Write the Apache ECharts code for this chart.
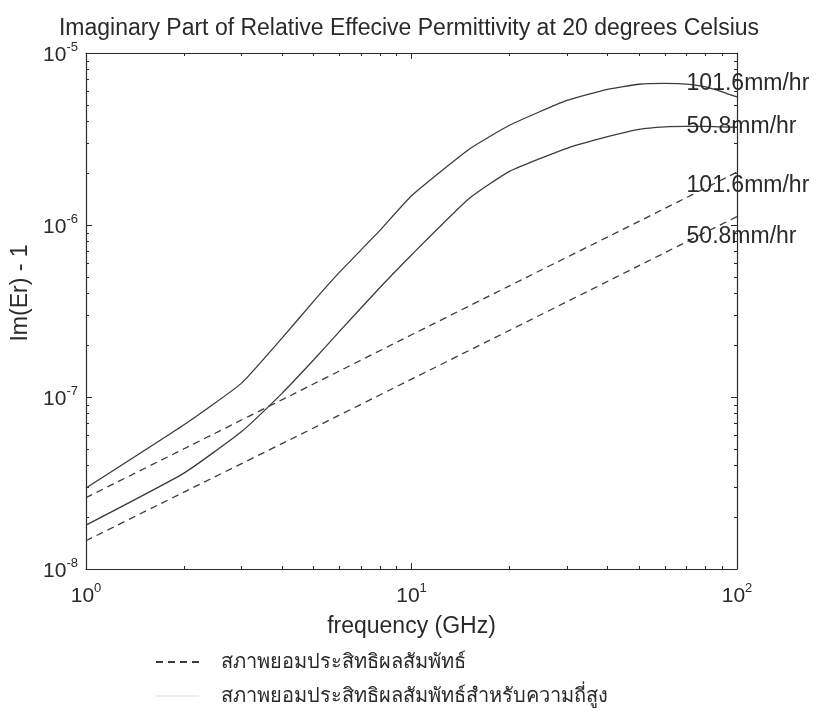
<!DOCTYPE html>
<html>
<head>
<meta charset="utf-8">
<script src="https://cdn.jsdelivr.net/npm/echarts@6/dist/echarts.min.js"></script>
<style>
  html, body { margin: 0; padding: 0; background: #fff; }
  #chart { width: 818px; height: 719px; }
</style>
</head>
<body>
<div id="chart"></div>
<script>
// frequency (GHz) sample points
const freq = [1, 2, 3, 4, 5, 6, 8, 10, 15, 20, 30, 40, 50, 60, 70, 80, 90, 100];

// high-frequency model (solid)
const solid1016 = [2.96e-8, 6.9e-8, 1.2e-7, 2.2e-7, 3.6e-7, 5.3e-7, 9.3e-7, 1.48e-6, 2.75e-6, 3.8e-6, 5.3e-6, 6.15e-6, 6.58e-6, 6.65e-6, 6.6e-6, 6.35e-6, 5.95e-6, 5.55e-6];
const solid508 = [1.8e-8, 3.61e-8, 6.28e-8, 1.05e-7, 1.64e-7, 2.4e-7, 4.33e-7, 6.7e-7, 1.42e-6, 2.05e-6, 2.79e-6, 3.26e-6, 3.6e-6, 3.72e-6, 3.74e-6, 3.74e-6, 3.72e-6, 3.7e-6];

// effective permittivity (dashed)
const dashFreq = [1, 2, 5, 10, 20, 50, 100];
const dashed1016 = [2.6e-8, 5.0e-8, 1.19e-7, 2.3e-7, 4.43e-7, 1.05e-6, 2.03e-6];
const dashed508 = [1.46e-8, 2.8e-8, 6.6e-8, 1.27e-7, 2.44e-7, 5.8e-7, 1.12e-6];

// curve labels
const curveLabels = ['101.6mm/hr', '50.8mm/hr', '101.6mm/hr', '50.8mm/hr'];
const labelFreq = [70, 70, 70, 70];
const labelValue = [6.6e-6, 3.72e-6, 1.7e-6, 8.6e-7];

// legend names
const legendNames = ['สภาพยอมประสิทธิผลสัมพัทธ์', 'สภาพยอมประสิทธิผลสัมพัทธ์สำหรับความถี่สูง'];

// minor tick positions
const xMinor = [2, 3, 4, 5, 6, 7, 8, 9, 20, 30, 40, 50, 60, 70, 80, 90];
const yMinor = [2e-8, 3e-8, 4e-8, 5e-8, 6e-8, 7e-8, 8e-8, 9e-8,
                2e-7, 3e-7, 4e-7, 5e-7, 6e-7, 7e-7, 8e-7, 9e-7,
                2e-6, 3e-6, 4e-6, 5e-6, 6e-6, 7e-6, 8e-6, 9e-6];

const FONT = "'Liberation Sans', Arial, 'DejaVu Sans', sans-serif";
const INK = '#2a2a2a';
const LINE = '#3c3c3c';

const pairs = (xs, ys) => xs.map((x, i) => [x, ys[i]]);

const powLabel = v => {
    const e = Math.round(Math.log10(v));
    return '{b|10}{s|' + e + '}';
};
const powRich = {
    b: { fontSize: 21, lineHeight: 25, verticalAlign: 'bottom', color: INK, fontFamily: FONT },
    s: { fontSize: 13, lineHeight: 13, verticalAlign: 'top', color: INK, fontFamily: FONT }
};

function axisBase(extra) {
    return Object.assign({
        type: 'log',
        logBase: 10,
        axisLine: { show: true, lineStyle: { color: INK, width: 1.2 } },
        axisTick: { show: true, inside: true, length: 6, lineStyle: { color: INK } },
        axisLabel: { show: false },
        splitLine: { show: false },
        minorTick: { show: false }
    }, extra);
}

function xAxisCfg(position, minor, labels) {
    const a = axisBase({ min: 1, max: 100, position: position });
    if (minor) {
        a.axisLine = { show: false };
        a.axisTick = { show: true, inside: true, length: 3, customValues: xMinor, lineStyle: { color: INK } };
    }
    if (labels) {
        a.axisLabel = { show: true, margin: 13, formatter: powLabel, rich: powRich };
        a.name = 'frequency (GHz)';
        a.nameLocation = 'middle';
        a.nameGap = 46;
        a.nameTextStyle = { fontSize: 23, color: INK, fontFamily: FONT };
    }
    return a;
}

function yAxisCfg(position, minor, labels) {
    const a = axisBase({ min: 1e-8, max: 1e-5, position: position });
    if (minor) {
        a.axisLine = { show: false };
        a.axisTick = { show: true, inside: true, length: 3, customValues: yMinor, lineStyle: { color: INK } };
    }
    if (labels) {
        a.axisLabel = { show: true, margin: 8, formatter: powLabel, rich: powRich };
        a.name = 'Im(Er) - 1';
        a.nameLocation = 'middle';
        a.nameGap = 50;
        a.nameTextStyle = { fontSize: 23, color: INK, fontFamily: FONT, padding: [0, 0, 0, 36] };
    }
    return a;
}

function labelMark(i) {
    return {
        symbol: 'circle',
        symbolSize: 0,
        silent: true,
        label: {
            show: true,
            position: 'right',
            distance: 0,
            formatter: '{b}',
            fontSize: 23,
            color: INK,
            fontFamily: FONT
        },
        data: [{ name: curveLabels[i], coord: [labelFreq[i], labelValue[i]] }]
    };
}

function lineSeries(name, data, dashed, idx) {
    return {
        name: name,
        type: 'line',
        data: data,
        symbol: 'none',
        smooth: 0.15,
        lineStyle: { color: LINE, width: 1.3, type: dashed ? [7, 5] : 'solid' },
        itemStyle: { color: LINE },
        markPoint: labelMark(idx),
        z: 3
    };
}

const chart = echarts.init(document.getElementById('chart'), null, { renderer: 'canvas' });

chart.setOption({
    animation: false,
    backgroundColor: '#ffffff',
    textStyle: { fontFamily: FONT },
    title: {
        text: 'Imaginary Part of Relative Effecive Permittivity at 20 degrees Celsius',
        left: 'center',
        top: 12,
        textStyle: { fontSize: 23, fontWeight: 'normal', color: INK, fontFamily: FONT }
    },
    grid: { left: 86, top: 53, right: 81, bottom: 150, containLabel: false },
    legend: {
        orient: 'vertical',
        left: 155,
        top: 652,
        padding: 0,
        itemWidth: 43,
        itemHeight: 14,
        itemGap: 14,
        selectedMode: false,
        itemStyle: { opacity: 0 },
        textStyle: { fontSize: 20, color: INK, fontFamily: FONT, padding: [0, 0, 0, 17] },
        data: [
            { name: legendNames[0], itemStyle: { opacity: 0 } },
            { name: legendNames[1], itemStyle: { opacity: 0 }, lineStyle: { color: '#ececec' } }
        ]
    },
    xAxis: [
        xAxisCfg('bottom', false, true),
        xAxisCfg('top', false, false),
        xAxisCfg('bottom', true, false),
        xAxisCfg('top', true, false)
    ],
    yAxis: [
        yAxisCfg('left', false, true),
        yAxisCfg('right', false, false),
        yAxisCfg('left', true, false),
        yAxisCfg('right', true, false)
    ],
    series: [
        lineSeries(legendNames[1], pairs(freq, solid1016), false, 0),
        lineSeries(legendNames[1], pairs(freq, solid508), false, 1),
        lineSeries(legendNames[0], pairs(dashFreq, dashed1016), true, 2),
        lineSeries(legendNames[0], pairs(dashFreq, dashed508), true, 3)
    ]
});
</script>
</body>
</html>
